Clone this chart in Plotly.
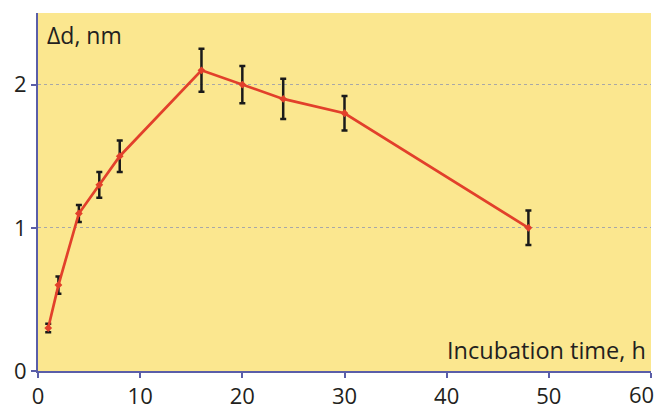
import plotly.graph_objects as go

time_h = [1, 2, 4, 6, 8, 16, 20, 24, 30, 48]
delta_d = [0.3, 0.6, 1.1, 1.3, 1.5, 2.1, 2.0, 1.9, 1.8, 1.0]
err = [0.03, 0.06, 0.06, 0.09, 0.11, 0.15, 0.13, 0.14, 0.12, 0.12]

x_ticks = [0, 10, 20, 30, 40, 50, 60]
x_tick_labels = ["0", "10", "20", "30", "40", "50", "60"]
y_ticks = [0, 1, 2]
y_tick_labels = ["0", "1", "2"]

font_family = "Open Sans, Lato, sans-serif"
axis_color = "#5a5ea8"
text_color = "#231f20"

fig = go.Figure()
fig.add_trace(go.Scatter(
    x=time_h, y=delta_d,
    mode="lines+markers",
    line=dict(color="#e2402b", width=2.7),
    marker=dict(color="#e2402b", size=6, symbol="diamond"),
    error_y=dict(type="data", array=err, visible=True, color="#1a1a1a", thickness=2.5, width=3),
    showlegend=False,
))

fig.update_layout(
    width=662, height=409,
    margin=dict(l=30, r=19, t=5, b=46),
    paper_bgcolor="white",
    plot_bgcolor="#fbe78f",
    font=dict(family=font_family, size=22, color=text_color),
    xaxis=dict(
        range=[0, 60], tickvals=x_ticks,
        ticktext=x_tick_labels[:-1] + [""],
        showline=True, linecolor=axis_color, linewidth=2,
        ticks="outside", tickcolor=axis_color, ticklen=5, tickwidth=2,
        showgrid=False, zeroline=False, automargin=False,
        ticklabeloverflow="allow",
    ),
    yaxis=dict(
        range=[0, 2.5], tickvals=y_ticks, ticktext=y_tick_labels,
        showline=True, linecolor=axis_color, linewidth=2,
        ticks="outside", tickcolor=axis_color, ticklen=5, tickwidth=2,
        showgrid=True, gridcolor="#a8a8a8", gridwidth=1, griddash="dot",
        zeroline=False, automargin=False, ticklabeloverflow="allow",
    ),
    annotations=[
        dict(text="Δd, nm", xref="paper", yref="paper", x=0.012, y=0.99,
             xanchor="left", yanchor="top", showarrow=False,
             font=dict(family=font_family, size=23, color=text_color)),
        dict(text="Incubation time, h", xref="paper", yref="paper", x=0.995, y=0.008,
             xanchor="right", yanchor="bottom", showarrow=False,
             font=dict(family=font_family, size=23.5, color=text_color)),
        dict(text=x_tick_labels[-1], xref="x", yref="paper", x=x_ticks[-1], y=0,
             xanchor="right", yanchor="top", xshift=5, yshift=-6, showarrow=False,
             font=dict(family=font_family, size=22, color=text_color)),
    ],
)

fig.write_html("out.html")
